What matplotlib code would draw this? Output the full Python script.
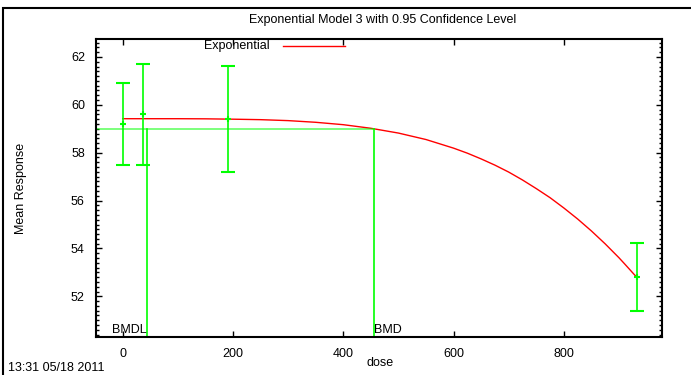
import matplotlib
matplotlib.use("Agg")
import matplotlib.pyplot as plt
from matplotlib.patches import Rectangle
from matplotlib.ticker import MultipleLocator

plt.rcParams['font.family'] = ['Liberation Sans', 'DejaVu Sans']

# observed group means with 95% confidence limits
doses = [0, 37, 191, 932]
means = [59.21, 59.61, 59.40, 52.79]
upper = [60.93, 61.72, 61.61, 54.21]
lower = [57.47, 57.47, 57.19, 51.375]

# fitted exponential model 3 curve
curve_dose = [0, 50, 100, 150, 200, 250, 300, 350, 400, 450, 500, 550, 600,
              625, 650, 675, 700, 725, 750, 775, 800, 825, 850, 875, 900, 910, 932]
curve_resp = [59.42, 59.42, 59.42, 59.415, 59.40, 59.38, 59.34, 59.27, 59.17,
              59.02, 58.82, 58.55, 58.19, 57.98, 57.74, 57.48, 57.19, 56.86,
              56.50, 56.12, 55.69, 55.23, 54.73, 54.19, 53.61, 53.36, 52.80]

bmr_level = 59.0
bmdl = 44
bmd = 456

green = '#00ff00'
red = '#ff0000'
fs = 9

fig = plt.figure(figsize=(6.91, 3.75), dpi=100)
ax = fig.add_axes([96 / 691, 38 / 375, 566 / 691, 298 / 375])

# outer frame
fig.patches.append(Rectangle((3 / 691, -0.1), 1.1, (375 - 8) / 375 + 0.1,
                             transform=fig.transFigure, fill=False,
                             edgecolor='black', linewidth=1.5))

ax.plot(curve_dose, curve_resp, color=red, linewidth=1.0, label='Exponential')

yerr = [[m - l for m, l in zip(means, lower)], [u - m for u, m in zip(upper, means)]]
ax.errorbar(doses, means, yerr=yerr, fmt='+', color=green, ecolor=green,
            elinewidth=1.2, capsize=4.7, capthick=1.2, markersize=4, mew=1.5)

xmin, xmax = -48.5, 978
ymin, ymax = 50.3, 62.75
ax.set_xlim(xmin, xmax)
ax.set_ylim(ymin, ymax)

# BMR / BMD / BMDL lines
ax.plot([xmin, bmd], [bmr_level, bmr_level], color=green, linewidth=1.2, alpha=0.6)
ax.plot([bmdl, bmdl], [ymin, bmr_level], color=green, linewidth=1.2)
ax.plot([bmd, bmd], [ymin, bmr_level], color=green, linewidth=1.2)
ax.text(bmdl, 50.58, 'BMDL', ha='right', va='center', fontsize=fs)
ax.text(bmd, 50.58, 'BMD', ha='left', va='center', fontsize=fs)

ax.xaxis.set_major_locator(MultipleLocator(200))
ax.yaxis.set_major_locator(MultipleLocator(2))
ax.yaxis.set_minor_locator(MultipleLocator(0.2))
ax.tick_params(which='both', direction='in', top=True, right=True, labelsize=fs, width=1)
ax.tick_params(which='major', length=4, pad=8)
ax.tick_params(which='minor', length=2.5)
for s in ax.spines.values():
    s.set_linewidth(1.5)

ax.set_xlabel('dose', fontsize=fs)
ax.xaxis.set_label_coords((380 - 96) / 566, -20 / 298)
ax.set_ylabel('Mean Response', fontsize=fs)
ax.yaxis.set_label_coords(-(96 - 27) / 566, 0.5)

fig.text(383 / 691, 1 - 20 / 375, 'Exponential Model 3 with 0.95 Confidence Level',
         ha='center', va='center', fontsize=fs)

# legend drawn gnuplot style: text then line sample
fig.text(270 / 691, 1 - 46 / 375, 'Exponential', ha='right', va='center', fontsize=fs)
fig.lines.append(plt.Line2D([283 / 691, 345 / 691], [1 - 46 / 375, 1 - 46 / 375],
                            transform=fig.transFigure, color=red, linewidth=1.0))

fig.text(8 / 691, 1 - 374 / 375, '13:31 05/18 2011', ha='left', va='bottom', fontsize=fs)

fig.savefig('out.png', dpi=100)
